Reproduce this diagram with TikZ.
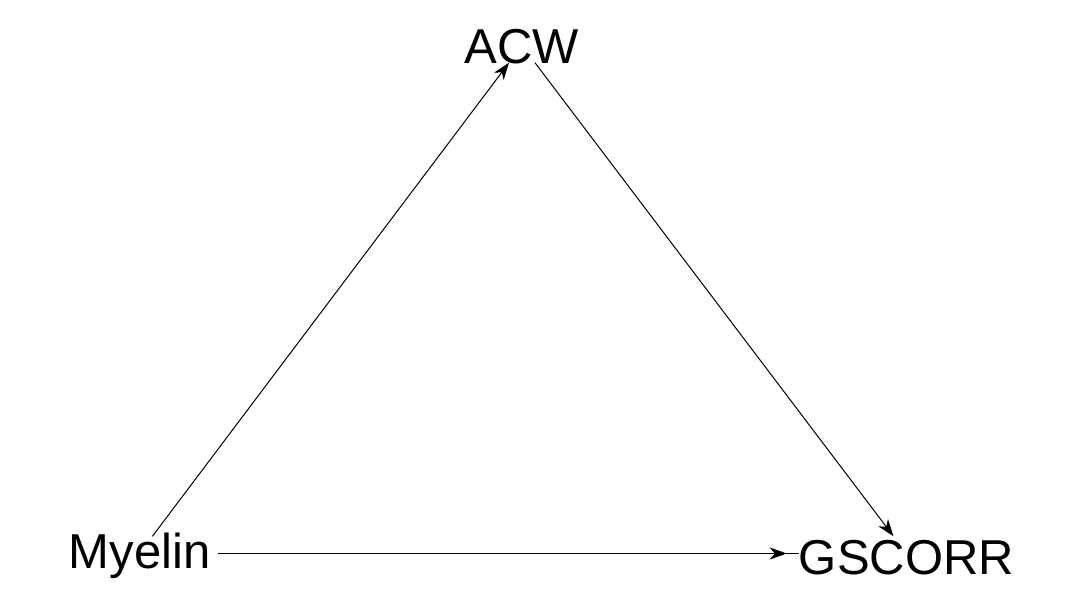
\documentclass[tikz,border=0pt]{standalone}
\usepackage{fontspec}
\setmainfont{Liberation Sans}
\usetikzlibrary{arrows.meta}
\begin{document}
\begin{tikzpicture}[x=1pt,y=-1pt,
  vtx/.style={rectangle, inner sep=0pt, text height=17pt, text depth=17pt,
    font=\fontsize{49}{58}\selectfont},
  link/.style={line width=1pt},
  arr/.style={link, -{Stealth[length=17pt,width=12pt,inset=5pt]}}]
\useasboundingbox (0,0) rectangle (1080,600);
\node[vtx, minimum width=156pt] (m) at (139.5,553.5) {\raisebox{-15pt}{Myelin}};
\node[vtx, minimum width=120pt] (a) at (522,45.5) {\raisebox{-17.5pt}{ACW}};
\node[vtx, minimum width=212pt] (g) at (906.5,553.5) {\raisebox{-20.5pt}{GSCORR}};
\draw[arr] (m) -- (a);
\draw[arr] (a) -- (g);
\draw[link] (m) -- (g);
\draw[arr, shorten >=12pt] (m) -- (g);
\end{tikzpicture}
\end{document}
